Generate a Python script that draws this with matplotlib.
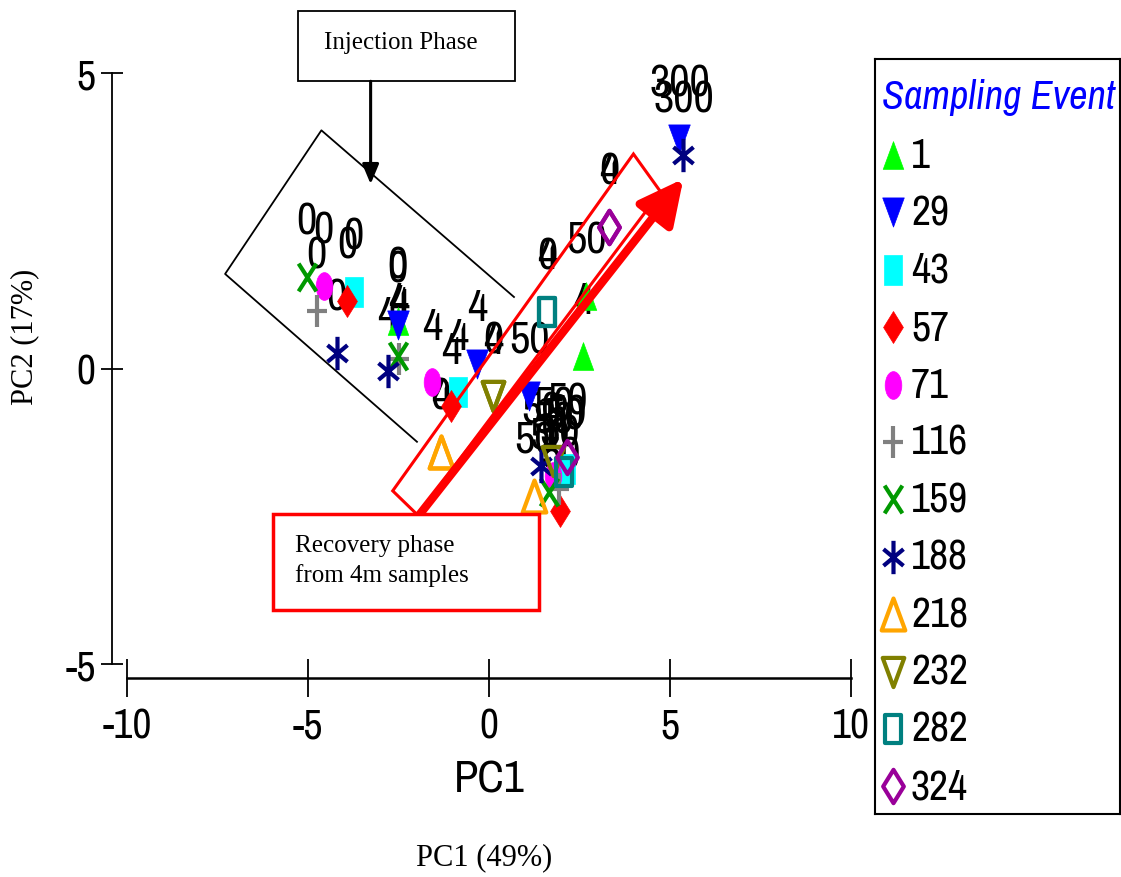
import numpy as np
import matplotlib
matplotlib.use("Agg")
import matplotlib.pyplot as plt
from matplotlib import font_manager as fm
from matplotlib.path import Path
from matplotlib.transforms import Affine2D
from matplotlib.patches import Polygon, Rectangle, FancyArrowPatch

# ---------------------------------------------------------------- data
events = ["1", "29", "43", "57", "71", "116", "159", "188", "218", "232", "282", "324"]
colors = ["#00FF00", "#0000FF", "#00FFFF", "#FF0000", "#FF00FF", "#808080",
          "#009900", "#000080", "#FFA500", "#808000", "#008080", "#990099"]

# one entry per sample: sampling event, PC1 score, PC2 score, depth label (m)
sample_event = ["1", "1", "1",
                "29", "29", "29", "29",
                "43", "43", "43",
                "57", "57", "57",
                "71", "71", "71",
                "116", "116", "116",
                "159", "159", "159",
                "188", "188", "188", "188",
                "218", "218", "218",
                "232", "232", "232",
                "282", "282", "282",
                "324", "324", "324"]
sample_pc1 = [-2.52, 2.60, 2.69,
              -2.52, -0.33, 1.11, 5.26,
              -3.74, -0.86, 2.13,
              -3.91, -1.05, 1.97,
              -4.57, -1.58, 1.77,
              -4.76, -2.49, 1.94,
              -5.04, -2.52, 1.66,
              -4.21, -2.80, 1.44, 5.37,
              -1.33, -1.33, 1.25,
              0.11, 0.11, 1.77,
              1.61, 1.61, 2.08,
              3.32, 3.32, 2.16]
sample_pc2 = [0.80, 0.21, 1.22,
              0.74, 0.08, -0.47, 3.88,
              1.29, -0.40, -1.70,
              1.14, -0.64, -2.41,
              1.39, -0.23, -1.82,
              0.97, 0.16, -2.04,
              1.54, 0.21, -2.09,
              0.26, -0.04, -1.65, 3.62,
              -1.41, -1.41, -2.16,
              -0.47, -0.47, -1.57,
              0.96, 0.96, -1.75,
              2.40, 2.40, -1.50]
sample_depth = ["0", "4", "50",
                "0", "4", "50", "300",
                "0", "4", "50",
                "0", "4", "50",
                "0", "4", "50",
                "0", "4", "50",
                "0", "4", "50",
                "0", "4", "50", "300",
                "0", "4", "50",
                "0", "4", "50",
                "0", "4", "50",
                "0", "4", "50"]

x_ticks = [-10, -5, 0, 5, 10]
y_ticks = [-5, 0, 5]

# ---------------------------------------------------------------- fonts
# prefer a narrow sans face; fall back to Liberation Sans at a smaller size
_narrow = sorted({f.name for f in fm.fontManager.ttflist
                  if ("Narrow" in f.name or "Condensed" in f.name)
                  and "Serif" not in f.name and "Mono" not in f.name})
if _narrow:
    SANS = _narrow[0]
    FS_TICK, FS_LABEL, FS_PT, FS_TITLE = 30, 32, 32, 29
else:
    SANS = "Liberation Sans"
    FS_TICK, FS_LABEL, FS_PT, FS_TITLE = 28, 30, 29, 23
SERIF = "Liberation Serif"

# ---------------------------------------------------------------- markers (narrow shapes)
def poly(pts):
    return Path(pts + [pts[0]], [Path.MOVETO] + [Path.LINETO] * (len(pts) - 1) + [Path.CLOSEPOLY])

def strokes(segs):
    verts, codes = [], []
    for a, b in segs:
        verts += [a, b]
        codes += [Path.MOVETO, Path.LINETO]
    return Path(verts, codes)

tri_up = poly([(-0.37, -0.5), (0.37, -0.5), (0.0, 0.5)])
tri_dn = poly([(-0.37, 0.5), (0.37, 0.5), (0.0, -0.5)])
rect = poly([(-0.3, -0.5), (0.3, -0.5), (0.3, 0.5), (-0.3, 0.5)])
diam = poly([(0.0, -0.5), (0.31, 0.0), (0.0, 0.5), (-0.31, 0.0)])
ellip = Affine2D().scale(0.3, 0.5).transform_path(Path.unit_circle())
plus = strokes([((-0.31, 0.0), (0.31, 0.0)), ((0.0, -0.5), (0.0, 0.5))])
cross = strokes([((-0.32, -0.5), (0.32, 0.5)), ((-0.32, 0.5), (0.32, -0.5))])
aster = strokes([((0.0, -0.5), (0.0, 0.5)), ((-0.3, -0.25), (0.3, 0.25)), ((-0.3, 0.25), (0.3, -0.25))])

# marker, size (pt), filled?
styles = {
    "1":   (tri_up, 20, True),
    "29":  (tri_dn, 21, True),
    "43":  (rect, 21, True),
    "57":  (diam, 23, True),
    "71":  (ellip, 20, True),
    "116": (plus, 23, False),
    "159": (cross, 20, False),
    "188": (aster, 24, False),
    "218": (tri_up, 23, False),
    "232": (tri_dn, 21, False),
    "282": (rect, 20, False),
    "324": (diam, 24, False),
}

def marker_kw(ev, col):
    m, s, filled = styles[ev]
    if filled:
        return dict(marker=m, ms=s, mfc=col, mec=col, mew=0.5)
    return dict(marker=m, ms=s, mfc="none", mec=col, mew=3.0)

# ---------------------------------------------------------------- figure
fig = plt.figure(figsize=(11.21, 8.78), dpi=100)
ax = fig.add_axes([127 / 1121, 1 - 665 / 878, 724 / 1121, 591 / 878])
ax.set_xlim(-10, 10)
ax.set_ylim(-5, 5)
ax.patch.set_visible(False)

for s in ("top", "right"):
    ax.spines[s].set_visible(False)
ax.spines["left"].set_position(("outward", 10.5))
ax.spines["left"].set_bounds(-5, 5)
ax.spines["bottom"].set_position(("outward", 10.0))
ax.spines["bottom"].set_bounds(-10, 10)
ax.spines["left"].set_linewidth(1.3)
ax.spines["bottom"].set_linewidth(1.8)

ax.set_xticks(x_ticks)
ax.set_yticks(y_ticks)
ax.set_xticklabels([str(v) for v in x_ticks])
ax.set_yticklabels([str(v) for v in y_ticks])
ax.tick_params(axis="y", direction="inout", length=16, width=1.3, pad=4)
ax.tick_params(axis="x", direction="inout", length=27, width=1.3, pad=7)
for lab in ax.get_xticklabels() + ax.get_yticklabels():
    lab.set_fontfamily(SANS)
    lab.set_fontsize(FS_TICK)

ax.set_xlabel("PC1", fontfamily=SANS, fontsize=FS_LABEL, labelpad=11)

# depth labels above each sample, then the symbols
pc1 = np.array(sample_pc1)
pc2 = np.array(sample_pc2)
ev_arr = np.array(sample_event)
for x, y, d in zip(pc1, pc2, sample_depth):
    ax.annotate(d, (x, y), xytext=(0, 40), textcoords="offset points",
                ha="center", va="center", fontfamily=SANS, fontsize=FS_PT,
                color="black", zorder=3, annotation_clip=False)

for ev, col in zip(events, colors):
    sel = ev_arr == ev
    ax.plot(pc1[sel], pc2[sel], linestyle="none", zorder=4, clip_on=False,
            **marker_kw(ev, col))

# ---------------------------------------------------------------- annotations
# injection phase callout
ax.add_patch(Rectangle((-5.29, 4.86), 6.01, 1.19, fill=False, ec="black",
                       lw=1.3, clip_on=False, zorder=5))
ax.text(-2.44, 5.53, "Injection Phase", ha="center", va="center",
        fontfamily=SERIF, fontsize=18, zorder=6, clip_on=False)
ax.annotate("", xy=(-3.27, 3.12), xytext=(-3.27, 4.86),
            arrowprops=dict(arrowstyle="-|>,head_length=0.6,head_width=0.25",
                            color="black", lw=2.2, shrinkA=0, shrinkB=0,
                            mutation_scale=20),
            zorder=6, annotation_clip=False)
ax.plot([0.69, -4.63, -7.29, -1.99], [1.21, 4.03, 1.60, -1.24],
        color="black", lw=1.3, zorder=5, clip_on=False)

# recovery phase outline and arrow
ax.add_patch(Polygon([(-2.66, -2.07), (3.99, 3.63), (4.74, 2.99), (-1.97, -2.48)],
                     closed=True, fill=False, ec="red", lw=2.2, zorder=5, clip_on=False))
ax.add_patch(FancyArrowPatch((-2.02, -2.55), (5.37, 3.21),
                             arrowstyle="-|>,head_length=0.9,head_width=0.45",
                             mutation_scale=30, color="red", lw=6,
                             shrinkA=0, shrinkB=0, zorder=5, clip_on=False))
ax.add_patch(Rectangle((-5.98, -4.09), 7.37, 1.62, fill=True, fc="white", ec="red",
                       lw=2.5, clip_on=False, zorder=6))
ax.text(-5.37, -3.24, "Recovery phase\nfrom 4m samples", ha="left", va="center",
        fontfamily=SERIF, fontsize=18, linespacing=1.35, zorder=7, clip_on=False)

# outer axis titles
fig.text(484 / 1121, 1 - 858 / 878, "PC1 (49%)", ha="center", va="center",
         fontfamily=SERIF, fontsize=22)
fig.text(25 / 1121, 1 - 337 / 878, "PC2 (17%)", ha="center", va="center",
         rotation=90, fontfamily=SERIF, fontsize=22)

# ---------------------------------------------------------------- key
lg = fig.add_axes([875 / 1121, 1 - 815 / 878, 245 / 1121, 755 / 878])
lg.set_xlim(875, 1120)
lg.set_ylim(815, 60)
lg.set_xticks([])
lg.set_yticks([])
for s in lg.spines.values():
    s.set_linewidth(1.5)
    s.set_color("black")
lg.text(999, 97, "Sampling Event", ha="center", va="center", color="#0000FF",
        fontstyle="italic", fontfamily=SANS, fontsize=FS_TITLE)
for i, (ev, col) in enumerate(zip(events, colors)):
    yy = 156 + i * 57.4
    lg.plot([893], [yy], linestyle="none", clip_on=False, **marker_kw(ev, col))
    lg.text(911, yy, ev, ha="left", va="center", fontfamily=SANS, fontsize=FS_TICK)

fig.savefig("out.png", dpi=100)
